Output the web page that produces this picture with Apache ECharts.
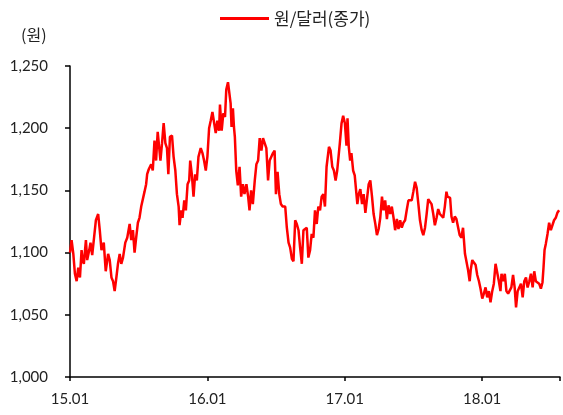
<!DOCTYPE html>
<html>
<head>
<meta charset="utf-8">
<script src="https://cdn.jsdelivr.net/npm/echarts@6/dist/echarts.min.js"></script>
<style>html,body{margin:0;padding:0;background:#fff}#c{width:563px;height:415px}</style>
</head>
<body>
<div id="c"></div>
<script>
// months elapsed since 2015-01 (time position of each observation)
const monthsSince2015 = [
0.00,0.14,0.29,0.43,0.58,0.72,0.87,1.01,1.10,1.21,1.39,1.50,1.68,1.79,1.94,2.08,2.26,2.46,2.60,2.75,
2.95,3.12,3.33,3.47,3.62,3.76,3.90,4.05,4.19,4.34,4.48,4.63,4.83,5.00,5.21,5.35,5.50,5.64,5.78,5.93,
6.07,6.22,6.36,6.51,6.65,6.74,6.88,7.09,7.23,7.38,7.52,7.66,7.81,7.90,8.04,8.18,8.33,8.47,8.59,8.73,
8.91,9.05,9.20,9.34,9.49,9.57,9.72,9.83,9.98,10.12,10.27,10.41,10.50,10.64,10.79,10.93,11.08,11.22,11.42,11.57,
11.71,11.86,12.00,12.15,12.29,12.44,12.58,12.73,12.87,13.02,13.10,13.25,13.39,13.54,13.65,13.80,13.94,14.03,14.11,14.23,
14.32,14.40,14.52,14.66,14.81,14.95,15.10,15.24,15.41,15.56,15.68,15.82,15.97,16.14,16.28,16.43,16.57,16.72,16.86,17.01,
17.15,17.30,17.44,17.58,17.73,17.87,17.99,18.13,18.28,18.42,18.57,18.80,18.94,19.09,19.23,19.38,19.52,19.67,19.81,19.96,
20.10,20.25,20.39,20.54,20.68,20.82,20.97,21.11,21.26,21.40,21.55,21.69,21.84,21.98,22.13,22.27,22.41,22.62,22.76,22.91,
23.05,23.20,23.34,23.57,23.72,23.86,24.01,24.15,24.24,24.35,24.47,24.58,24.73,24.87,25.02,25.10,25.22,25.36,25.51,25.65,
25.80,25.94,26.09,26.23,26.38,26.52,26.67,26.81,26.96,27.10,27.25,27.39,27.53,27.68,27.82,27.97,28.11,28.26,28.40,28.55,
28.69,28.84,28.98,29.12,29.27,29.41,29.56,29.70,29.85,29.99,30.14,30.28,30.43,30.57,30.72,30.86,31.01,31.15,31.29,31.44,
31.58,31.73,31.87,32.02,32.16,32.31,32.45,32.60,32.74,32.88,32.97,33.20,33.32,33.46,33.61,33.75,33.90,34.04,34.18,34.33,
34.42,34.50,34.62,34.77,34.91,35.00,35.14,35.28,35.43,35.57,35.72,35.86,36.01,36.15,36.30,36.44,36.59,36.73,36.88,37.02,
37.17,37.31,37.46,37.60,37.69,37.83,37.98,38.12,38.27,38.41,38.55,38.70,38.84,38.96,39.10,39.25,39.39,39.54,39.68,39.83,
39.97,40.12,40.26,40.41,40.55,40.69,40.84,40.98,41.13,41.27,41.36,41.45,41.56,41.71,41.85,42.00,42.14,42.28,42.43,42.57,
42.72
];
// KRW/USD closing rate
const krwUsd = [
1100,1110,1099,1083,1077,1088,1080,1102,1094,1091,1110,1094,1102,1108,1098,1098,1126,1131,1118,1102,
1108,1085,1099,1094,1080,1077,1069,1080,1091,1099,1091,1096,1108,1112,1123,1110,1118,1100,1112,1124,
1128,1137,1137,1149,1155,1163,1167,1171,1166,1190,1174,1197,1198,1174,1188,1204,1188,1184,1163,1193,
1194,1177,1166,1147,1137,1122,1134,1128,1142,1134,1155,1158,1174,1163,1145,1163,1158,1177,1184,1180,
1174,1166,1177,1200,1206,1213,1212,1196,1206,1198,1219,1198,1212,1209,1231,1237,1236,1220,1201,1216,
1201,1193,1166,1154,1169,1145,1155,1147,1155,1145,1134,1150,1139,1158,1171,1174,1192,1182,1192,1193,
1184,1158,1174,1173,1180,1182,1147,1165,1147,1139,1137,1137,1120,1108,1104,1095,1093,1126,1123,1118,
1104,1091,1118,1118,1120,1096,1102,1115,1112,1134,1123,1137,1134,1145,1147,1137,1169,1185,1182,1169,
1166,1158,1166,1188,1204,1210,1204,1186,1208,1185,1174,1180,1166,1162,1161,1139,1147,1151,1139,1147,
1132,1131,1155,1158,1145,1131,1123,1114,1119,1128,1145,1134,1142,1127,1138,1131,1137,1128,1118,1127,
1119,1126,1120,1124,1126,1134,1142,1143,1142,1149,1157,1152,1139,1126,1118,1114,1120,1131,1143,1142,
1139,1131,1122,1128,1135,1131,1132,1128,1137,1149,1145,1144,1129,1124,1129,1127,1128,1114,1112,1120,
1120,1099,1098,1086,1077,1086,1094,1092,1090,1082,1077,1071,1063,1067,1072,1064,1069,1060,1069,1075,
1091,1090,1077,1069,1083,1077,1083,1069,1067,1067,1072,1082,1072,1056,1069,1069,1075,1064,1077,1080,
1072,1077,1083,1072,1085,1077,1077,1075,1071,1076,1088,1102,1107,1115,1124,1118,1117,1126,1128,1132,
1134
];
const xTickLabels = ['15.01','16.01','17.01','18.01'];
const seriesName = '원/달러(종가)';
const unitLabel = '(원)';

const data = monthsSince2015.map((m, i) => [m, krwUsd[i]]);
const numFont = 'Lato, "Noto Sans CJK KR", sans-serif';
const chart = echarts.init(document.getElementById('c'), null, {renderer: 'canvas'});
chart.setOption({
  animation: false,
  backgroundColor: '#fff',
  title: {
    text: unitLabel, left: 16, top: 22,
    textStyle: {fontSize: 16, fontWeight: 'normal', color: '#222', fontFamily: '"Noto Sans CJK KR", sans-serif'}
  },
  legend: {
    data: [{name: seriesName, icon: 'rect'}], left: 215, top: 5,
    itemWidth: 49, itemHeight: 3, itemGap: 6,
    textStyle: {fontSize: 17, color: '#222', fontFamily: '"Noto Sans CJK KR", sans-serif'}
  },
  grid: {left: 70, right: 0, top: 66, bottom: 38, containLabel: false},
  xAxis: {
    type: 'value', min: 0, max: 42.8, interval: 12,
    axisLine: {show: true, lineStyle: {color: '#000', width: 1.5}},
    axisTick: {show: true, length: 4, lineStyle: {color: '#000', width: 1.5}},
    splitLine: {show: false},
    axisLabel: {
      fontSize: 15, color: '#222', fontFamily: numFont, margin: 15,
      formatter: v => xTickLabels[Math.round(v / 12)] || ''
    }
  },
  yAxis: {
    type: 'value', min: 1000, max: 1250, interval: 50,
    axisLine: {show: true, lineStyle: {color: '#000', width: 1.5}},
    axisTick: {show: true, length: 5, lineStyle: {color: '#000', width: 1.5}},
    splitLine: {show: false},
    axisLabel: {
      fontSize: 15, color: '#222', fontFamily: numFont, margin: 22,
      formatter: v => v.toLocaleString('en-US')
    }
  },
  series: [{
    name: seriesName, type: 'line', data: data,
    symbol: 'none', showSymbol: false,
    lineStyle: {color: '#ff0000', width: 2.5},
    itemStyle: {color: '#ff0000'}
  }]
});
</script>
</body>
</html>
